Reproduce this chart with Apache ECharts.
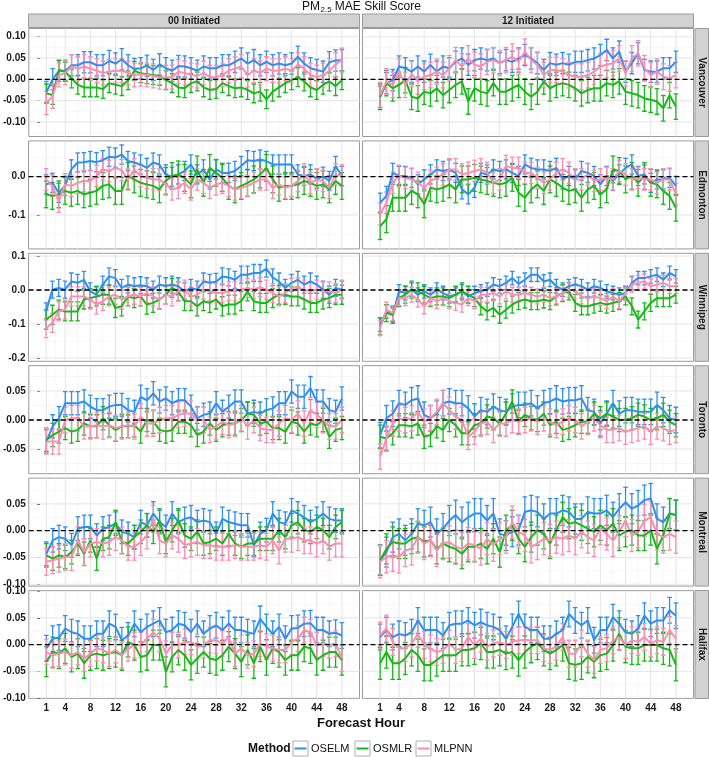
<!DOCTYPE html>
<html><head><meta charset="utf-8">
<script src="https://cdn.jsdelivr.net/npm/echarts@6/dist/echarts.min.js"></script>
<style>html,body{margin:0;padding:0;background:#fff}#c{width:709px;height:757px}</style>
</head><body><div id="c"></div>
<script>
// ---------------- DATA ----------------
const hours = [1,2,3,4,5,6,7,8,9,10,11,12,13,14,15,16,17,18,19,20,21,22,23,24,25,26,27,28,29,30,31,32,33,34,35,36,37,38,39,40,41,42,43,44,45,46,47,48];
const xTickLabels = [1,4,8,12,16,20,24,28,32,36,40,44,48];
const xMinorGrid = [2.5,6,10,14,18,22,26,30,34,38,42,46];
const cities = ['Vancouver','Edmonton','Winnipeg','Toronto','Montreal','Halifax'];
const initTimes = ['00 Initiated','12 Initiated'];
const methods = ['OSELM','OSMLR','MLPNN'];

const yTicksVancouver = [-0.10,-0.05,0.00,0.05,0.10];
const yTicksEdmonton  = [-0.1,0.0];
const yTicksWinnipeg  = [-0.2,-0.1,0.0,0.1];
const yTicksToronto   = [-0.05,0.00,0.05];
const yTicksMontreal  = [-0.10,-0.05,0.00,0.05];
const yTicksHalifax   = [-0.10,-0.05,0.00,0.05,0.10];
const yMinorVancouver = [-0.125,-0.075,-0.025,0.025,0.075];
const yMinorEdmonton  = [-0.15,-0.05,0.05];
const yMinorWinnipeg  = [-0.15,-0.05,0.05];
const yMinorToronto   = [-0.075,-0.025,0.025,0.075];
const yMinorMontreal  = [-0.075,-0.025,0.025,0.075];
const yMinorHalifax   = [-0.075,-0.025,0.025,0.075];

const vancouver00_oselm = [-0.03,0,0.02,0.02,0.033,0.033,0.04,0.04,0.033,0.033,0.043,0.037,0.047,0.033,0.024,0.026,0.032,0.022,0.035,0.026,0.02,0.031,0.03,0.026,0.02,0.03,0.026,0.026,0.033,0.033,0.041,0.049,0.037,0.045,0.033,0.041,0.033,0.037,0.033,0.037,0.053,0.037,0.026,0.022,0.018,0.04,0.044,0.045];
const vancouver00_osmlr = [-0.033,-0.037,0.022,0.018,0.002,-0.013,-0.019,-0.019,-0.019,-0.023,-0.009,-0.013,-0.016,-0.002,0.02,0.014,0.012,0.01,0.008,-0.002,-0.009,-0.019,-0.021,-0.009,-0.005,-0.019,-0.025,-0.023,-0.009,-0.016,-0.021,-0.019,-0.025,-0.033,-0.029,-0.047,-0.029,-0.019,-0.009,-0.002,0.005,-0.005,-0.019,-0.025,-0.013,-0.005,-0.016,-0.002];
const vancouver00_mlpnn = [-0.055,-0.04,0.01,0.015,0.03,0.025,0.03,0.025,0.02,0.015,0.018,0.02,0.02,0.015,0.01,0.012,0.01,0.008,0.005,0.005,0.005,0.018,0.015,0.01,0.008,0.015,0.005,0.005,0.01,0.02,0.025,0.03,0.01,0.02,0.015,0.025,0.02,0.02,0.025,0.02,0.035,0.025,0.01,0.005,0.01,0.02,0.035,0.045];
const vancouver12_oselm = [-0.041,-0.009,-0.002,0.03,0.026,0.018,0.03,0.018,0.034,0.018,0.03,0.026,0.041,0.049,0.034,0.045,0.049,0.045,0.049,0.038,0.045,0.041,0.049,0.057,0.049,0.038,0.022,0.038,0.034,0.038,0.034,0.041,0.041,0.045,0.049,0.057,0.069,0.049,0.065,0.018,0.038,0.061,0.022,0.018,0.018,0.026,0.026,0.041];
const vancouver12_osmlr = [-0.041,-0.009,-0.021,-0.013,-0.002,-0.041,-0.045,-0.029,-0.033,-0.021,-0.037,-0.025,-0.013,-0.005,-0.052,-0.021,-0.029,-0.033,-0.009,-0.029,-0.029,-0.021,-0.013,-0.029,-0.041,-0.029,-0.005,-0.021,-0.013,-0.009,-0.013,-0.021,-0.033,-0.025,-0.021,-0.021,-0.009,-0.013,-0.005,-0.029,-0.033,-0.037,-0.045,-0.048,-0.052,-0.068,-0.037,-0.064];
const vancouver12_mlpnn = [-0.037,-0.005,-0.013,0.018,-0.013,0.012,-0.005,0.006,0.01,0.018,0.01,0.026,0.045,0.03,0.049,0.034,0.03,0.041,0.045,0.038,0.045,0.053,0.041,0.065,0.045,0.034,0.01,0.022,0.022,0.018,0.01,0.006,0.006,0.01,0.018,0.03,0.034,0.038,0.049,0.014,0.049,0.061,0.026,0.01,0.018,0.006,0.002,0.01];

const edmonton00_oselm = [-0.02,-0.016,-0.042,-0.024,0.019,0.037,0.038,0.041,0.038,0.043,0.052,0.05,0.058,0.041,0.037,0.032,0.023,0.037,0.032,0.006,0,0.006,0.015,0.032,0.006,0.019,-0.007,0.019,0.01,0.01,0.015,0.028,0.043,0.041,0.045,0.041,0.032,0.032,0.032,0.032,0.006,0.002,0.006,-0.005,0,-0.011,0.028,0.002];
const edmonton00_osmlr = [-0.046,-0.05,-0.046,-0.037,-0.042,-0.037,-0.046,-0.042,-0.037,-0.024,-0.02,-0.037,-0.037,0.002,-0.007,-0.016,-0.02,-0.024,-0.033,-0.011,0.002,0.006,-0.003,-0.02,0.019,-0.016,0.023,0.01,-0.003,-0.024,-0.033,-0.024,-0.016,-0.007,0.006,0.023,-0.007,-0.029,-0.024,-0.024,-0.02,-0.011,-0.016,-0.024,-0.02,-0.033,-0.011,-0.024];
const edmonton00_mlpnn = [-0.007,-0.024,-0.065,-0.02,-0.024,-0.016,-0.011,-0.011,0.002,0.019,0.015,0.023,0.017,-0.007,0.019,0.002,-0.003,-0.007,-0.007,-0.02,-0.033,-0.029,-0.016,-0.033,-0.007,-0.016,-0.029,-0.02,-0.016,-0.024,-0.033,-0.029,-0.024,-0.016,-0.007,-0.007,-0.029,-0.02,-0.029,-0.024,-0.011,0.006,-0.016,-0.007,-0.011,-0.029,0.006,0.003];
const edmonton12_oselm = [-0.068,-0.05,0.01,0.002,0.002,-0.003,-0.02,-0.007,0.006,0.019,0.015,0.019,0.01,-0.033,-0.046,-0.029,0.01,0.006,0.019,0.015,0.019,0.01,0.002,0.032,0.023,0.019,0.019,0.015,0.023,-0.007,0.002,-0.007,0.015,0.01,0.002,-0.02,0.002,-0.011,0.006,0.023,0.032,0.002,0.006,-0.016,-0.007,-0.007,-0.003,-0.024];
const edmonton12_osmlr = [-0.129,-0.111,-0.055,-0.055,-0.055,-0.037,-0.046,-0.072,-0.029,-0.033,-0.029,-0.02,-0.033,-0.007,-0.007,-0.003,-0.007,-0.011,-0.016,-0.02,-0.016,-0.003,-0.042,-0.055,-0.033,-0.02,-0.037,-0.007,-0.016,-0.029,-0.037,-0.033,-0.055,-0.033,-0.024,-0.046,-0.033,0.019,0.015,-0.007,0.002,-0.016,0.002,-0.016,-0.02,-0.037,-0.05,-0.081];
const edmonton12_mlpnn = [-0.098,-0.068,-0.016,0.002,-0.003,-0.007,-0.016,-0.029,-0.011,-0.003,0.006,0.019,0.019,0.006,0.01,0.015,0.019,0.01,-0.016,-0.007,0.028,0.023,0.023,0.01,0.01,-0.003,-0.016,-0.007,0.01,0.019,0.01,-0.007,-0.007,0.006,-0.011,-0.007,-0.003,-0.007,0.015,0.006,-0.007,-0.003,-0.007,-0.007,-0.016,-0.007,-0.007,-0.046];

const winnipeg00_oselm = [-0.063,0.001,0.006,0.001,0.025,0.021,0.03,-0.004,-0.014,0.016,0.04,0.035,0.006,0.016,0.011,0.014,0.011,0.001,0.016,0.011,0.016,0.011,-0.004,0.006,0.001,0.025,0.021,0.024,0.04,0.037,0.03,0.045,0.045,0.05,0.05,0.063,0.037,0.025,0.006,0.021,0.03,0.016,0.025,0.016,0.001,-0.014,0.006,0.001];
const winnipeg00_osmlr = [-0.087,-0.073,-0.058,-0.063,-0.063,-0.063,-0.028,-0.024,-0.019,-0.014,-0.014,-0.053,-0.048,-0.019,-0.024,-0.019,-0.043,-0.038,-0.028,-0.014,0.006,-0.004,-0.033,-0.033,-0.048,-0.033,-0.038,-0.028,-0.048,-0.043,-0.043,-0.033,-0.004,-0.033,-0.038,-0.038,-0.024,-0.014,-0.014,-0.019,-0.019,-0.028,-0.038,-0.038,-0.028,-0.024,-0.014,-0.014];
const winnipeg00_mlpnn = [-0.112,-0.097,-0.063,-0.058,-0.019,-0.019,-0.019,-0.028,-0.043,-0.033,-0.019,-0.014,-0.028,-0.019,-0.014,-0.019,-0.009,-0.019,-0.028,-0.014,-0.019,-0.004,0.001,-0.019,-0.014,0.001,-0.004,-0.009,-0.009,-0.004,-0.004,0.001,0.006,0.001,0.008,0.001,-0.009,-0.019,-0.009,0.006,0.008,0.001,-0.004,0.001,-0.004,-0.004,-0.009,0.001];
const winnipeg12_oselm = [-0.102,-0.063,-0.073,-0.004,-0.009,0.001,-0.014,-0.004,-0.014,0.001,-0.009,-0.019,-0.014,-0.004,-0.019,-0.009,-0.004,0.001,0.016,0.011,0.021,0.035,0.018,0.03,0.045,0.045,0.025,0.03,0.011,0.001,0.011,0.016,0.011,0.001,0.011,0.006,-0.004,-0.009,-0.014,-0.009,0.021,0.035,0.035,0.04,0.045,0.03,0.05,0.04];
const winnipeg12_osmlr = [-0.107,-0.068,-0.073,-0.024,-0.014,0.001,-0.004,-0.014,-0.024,-0.019,-0.019,-0.024,-0.014,-0.004,-0.014,-0.024,-0.048,-0.063,-0.053,-0.073,-0.058,-0.043,-0.033,-0.028,-0.033,-0.033,-0.028,-0.033,-0.019,-0.009,-0.004,-0.038,-0.048,-0.048,-0.043,-0.038,-0.043,-0.038,-0.033,-0.019,-0.048,-0.087,-0.063,-0.038,-0.024,-0.024,-0.024,-0.014];
const winnipeg12_mlpnn = [-0.112,-0.058,-0.068,-0.024,-0.024,-0.014,-0.028,-0.048,-0.024,-0.033,-0.024,-0.033,-0.038,-0.043,-0.024,-0.033,-0.014,-0.014,-0.009,-0.019,-0.004,-0.014,-0.014,-0.009,-0.014,-0.019,-0.014,-0.024,-0.019,-0.009,0.001,-0.004,-0.019,-0.024,-0.019,-0.024,-0.033,-0.019,-0.033,-0.009,0.016,0.021,0.025,0.011,0.016,0.021,0.011,0.011];

const toronto00_oselm = [-0.037,-0.011,0.003,0.029,0.029,0.029,0.032,0.023,0.017,0.017,0.023,0.026,0.026,0.017,0.014,0.04,0.034,0.046,0.032,0.037,0.029,0.034,0.034,0.023,0.003,0.009,0.011,0.029,0.014,0.023,0.032,0.032,0.011,0.014,0.011,0.017,0.02,0.029,0.029,0.049,0.04,0.04,0.055,0.032,0.032,0.017,0.014,0.037];
const toronto00_osmlr = [-0.034,-0.026,-0.02,-0.014,-0.02,-0.017,-0.006,-0.011,-0.011,0.003,-0.009,-0.017,-0.011,-0.011,-0.009,-0.02,0,-0.003,-0.017,-0.02,-0.017,-0.003,-0.003,-0.009,-0.026,-0.02,-0.006,-0.017,-0.009,-0.006,-0.006,0,0.011,0.009,-0.006,-0.003,-0.014,-0.014,-0.02,-0.003,-0.006,-0.02,-0.006,-0.009,0,-0.029,-0.017,-0.014];
const toronto00_mlpnn = [-0.037,-0.037,-0.037,0,0.003,0.003,-0.011,-0.011,-0.009,-0.011,-0.009,-0.014,-0.011,-0.009,-0.011,0.006,-0.006,-0.006,0,0.003,0.003,0.009,0.011,0.011,0,0,-0.017,-0.011,-0.003,-0.009,-0.006,0.003,-0.011,0,-0.014,-0.017,-0.017,-0.006,0.003,0,0.011,-0.006,0.017,0.009,0,-0.011,-0.011,0];
const toronto12_oselm = [-0.026,0.003,0.011,0.029,0.026,0.034,0.037,0.009,0.003,0.011,0.029,0.032,0.029,0.029,0.02,0.006,0.017,0.014,0.023,0.017,0.014,0.023,0.026,0.026,0.029,0.02,0.029,0.032,0.037,0.032,0.034,0.034,0.037,0.017,0.014,-0.006,0.011,0.029,0.011,0.017,0.017,0.014,0.014,0.014,0.026,0.017,0.003,0];
const toronto12_osmlr = [-0.029,-0.032,-0.023,-0.009,-0.009,-0.011,-0.006,-0.029,-0.026,-0.011,-0.017,0,-0.009,-0.023,-0.023,-0.009,-0.006,0.006,0.003,-0.006,0.011,0.032,-0.003,0.009,0.003,0,0.011,-0.009,-0.003,-0.017,-0.014,-0.009,-0.003,-0.003,0.011,0.003,0.011,0.006,0,0,0.003,0.009,0.006,0,0.003,0.009,-0.003,-0.009];
const toronto12_mlpnn = [-0.063,-0.032,-0.006,0.003,0,0.003,0.014,-0.003,0.003,0.014,0.029,0.017,0.006,0,-0.029,-0.02,-0.006,-0.003,-0.017,-0.006,-0.006,0,-0.003,0,0.003,-0.003,0.003,-0.003,-0.009,-0.003,0.003,0,-0.011,-0.003,0.003,-0.009,-0.017,-0.017,-0.014,-0.02,-0.017,-0.014,-0.011,-0.02,-0.011,-0.014,-0.02,-0.017];

const montreal00_oselm = [-0.043,-0.018,-0.012,-0.015,-0.027,0.004,0.007,0.007,-0.009,0.004,0.007,0.013,-0.002,-0.006,-0.012,0.016,0.01,0.032,0.016,0.007,0.032,0.016,0.022,0.025,0.016,0.019,0.016,-0.006,0.022,0.016,0.013,0.01,0.01,-0.027,-0.006,0.001,0.032,0.016,0.013,0.038,0.032,0.025,0.016,0.022,0.032,0.022,0.019,0.019];
const montreal00_osmlr = [-0.046,-0.052,-0.046,-0.049,-0.04,-0.024,-0.043,-0.018,-0.052,-0.015,-0.012,0.016,-0.021,-0.024,-0.012,-0.002,0.01,-0.002,0.019,-0.021,0.001,0.019,-0.009,-0.015,-0.002,-0.024,-0.021,-0.015,-0.024,-0.006,-0.024,-0.03,-0.024,-0.024,-0.015,-0.015,-0.015,0.001,-0.012,0.01,0.016,0.001,-0.002,0.007,0.001,-0.012,0.007,0.016];
const montreal00_mlpnn = [-0.058,-0.055,-0.052,-0.049,-0.049,-0.018,-0.04,-0.024,-0.021,-0.024,-0.021,-0.012,-0.018,-0.03,-0.03,-0.021,-0.009,0.022,-0.018,-0.024,-0.009,-0.015,-0.027,-0.024,-0.021,-0.027,-0.027,-0.03,-0.03,-0.03,-0.027,-0.03,-0.03,-0.03,-0.027,-0.03,-0.018,-0.037,-0.015,-0.015,-0.012,-0.018,-0.018,-0.024,-0.018,-0.03,-0.024,-0.024];
const montreal12_oselm = [-0.055,-0.04,-0.012,-0.006,-0.018,-0.006,0.013,0.01,0.016,-0.006,0.004,0.019,0.029,0.016,0.025,0.032,0.032,0.019,0.032,-0.006,-0.009,-0.002,0.001,0.035,0.038,0.035,0.022,0.032,0.032,0.038,0.035,0.022,0.022,0.035,0.032,0.032,0.038,0.025,0.041,0.053,0.041,0.047,0.057,0.06,0.022,0.016,0.032,0.029];
const montreal12_osmlr = [-0.055,-0.034,-0.021,-0.024,-0.024,-0.015,-0.012,-0.021,-0.018,-0.034,-0.024,-0.03,-0.034,-0.043,-0.03,-0.03,-0.024,-0.034,-0.015,-0.04,0.001,0.01,-0.015,-0.03,-0.012,0.001,-0.006,-0.024,0.001,0.025,0.013,0.016,0.01,0.004,-0.002,0.01,0.001,0.013,-0.009,-0.002,0.001,-0.009,-0.009,0.001,-0.034,-0.009,0.032,0.029];
const montreal12_mlpnn = [-0.058,-0.049,-0.046,-0.049,-0.037,-0.034,-0.012,-0.024,-0.018,-0.037,-0.024,-0.021,-0.03,-0.034,-0.024,-0.027,-0.034,-0.015,-0.027,-0.015,-0.012,0.016,-0.002,-0.009,-0.03,-0.024,-0.015,-0.018,-0.012,-0.015,-0.009,-0.015,-0.002,-0.012,-0.018,0.004,-0.006,-0.018,-0.002,0.019,-0.009,-0.002,0.019,0.025,-0.006,-0.012,-0.006,-0.012];

const halifax00_oselm = [-0.007,0.011,0.013,0.03,0.023,0.02,0.011,0.011,0.02,0.02,0.039,0.033,0.008,0.017,0.039,0.023,0.033,0.039,0.045,0.023,0.027,0.039,0.036,0.023,0.039,0.02,0.03,0.036,0.027,0.039,0.027,0.027,0.023,0.02,0.048,0.033,0.02,0.033,0.011,0.03,0.031,0.039,0.04,0.027,0.027,0.02,0.022,0.017];
const halifax00_osmlr = [-0.032,-0.014,-0.017,-0.007,-0.023,-0.017,-0.035,-0.02,-0.017,-0.02,-0.017,-0.014,-0.02,0.005,-0.001,-0.023,-0.02,-0.001,-0.001,-0.051,-0.023,-0.01,-0.02,-0.038,-0.026,-0.014,-0.026,-0.029,-0.02,-0.004,-0.017,-0.032,-0.01,-0.035,-0.004,-0.029,-0.007,-0.014,-0.029,-0.02,-0.02,-0.004,-0.007,-0.029,-0.02,-0.014,-0.014,-0.029];
const halifax00_mlpnn = [-0.014,-0.02,-0.017,-0.014,-0.02,-0.014,-0.026,-0.017,-0.007,-0.01,-0.017,-0.01,-0.02,-0.007,-0.001,-0.001,0.011,0.023,0.011,-0.017,-0.001,-0.001,0.005,0.005,-0.004,-0.001,0.008,0.008,0.002,0.014,-0.017,-0.007,-0.02,-0.017,0.002,-0.004,-0.007,-0.01,-0.01,0.005,0.011,0.027,0.023,-0.001,0.002,-0.001,0.002,-0.026];
const halifax12_oselm = [0.014,0.027,0.014,0.02,0.017,0.023,0.045,0.027,0.027,0.027,0.017,0.036,0.039,0.039,0.045,0.036,0.042,0.036,0.033,0.027,0.011,0.033,0.057,0.033,0.027,0.027,0.011,0.011,0.02,0.027,0.057,0.045,0.036,0.045,0.008,0.027,0.027,0.051,0.039,0.023,0.02,0.03,0.054,0.039,0.045,0.045,0.064,0.054];
const halifax12_osmlr = [-0.035,-0.014,-0.035,-0.035,-0.026,-0.01,-0.02,-0.038,-0.038,-0.029,-0.02,-0.02,-0.02,-0.01,-0.01,-0.007,0.002,-0.014,-0.014,-0.01,-0.017,-0.014,-0.029,-0.014,-0.004,0.002,-0.01,-0.017,-0.01,-0.001,-0.035,-0.038,-0.035,-0.023,-0.032,-0.02,-0.017,-0.001,0.02,-0.004,-0.007,-0.007,-0.001,-0.001,-0.001,-0.007,-0.01,-0.038];
const halifax12_mlpnn = [0.017,0.03,0.005,-0.007,-0.007,0.002,0.02,-0.001,-0.007,-0.014,-0.01,0.002,-0.01,-0.007,0.014,-0.001,0.011,-0.004,0.002,0.005,-0.001,0.005,0.008,0.008,0.008,0.008,-0.007,-0.01,-0.004,0.014,-0.017,-0.017,0.002,-0.017,-0.029,-0.01,-0.007,0.008,0.014,-0.001,0.008,0.005,0.014,0.002,0.008,0.005,0.027,0.011];

// error-bar half widths per method [OSELM, OSMLR, MLPNN]
const errVancouver00 = [0.025,0.022,0.028], errVancouver12 = [0.025,0.03,0.03];
const errEdmonton00  = [0.025,0.035,0.028], errEdmonton12  = [0.025,0.035,0.028];
const errWinnipeg00  = [0.025,0.028,0.028], errWinnipeg12  = [0.02,0.025,0.022];
const errToronto00   = [0.02,0.02,0.022],   errToronto12   = [0.022,0.02,0.022];
const errMontreal00  = [0.022,0.022,0.025], errMontreal12  = [0.028,0.028,0.03];
const errHalifax00   = [0.024,0.028,0.024], errHalifax12   = [0.024,0.03,0.025];

// ---------------- ASSEMBLY ----------------
const panelValues = [
  [[vancouver00_oselm,vancouver00_osmlr,vancouver00_mlpnn],[vancouver12_oselm,vancouver12_osmlr,vancouver12_mlpnn]],
  [[edmonton00_oselm,edmonton00_osmlr,edmonton00_mlpnn],[edmonton12_oselm,edmonton12_osmlr,edmonton12_mlpnn]],
  [[winnipeg00_oselm,winnipeg00_osmlr,winnipeg00_mlpnn],[winnipeg12_oselm,winnipeg12_osmlr,winnipeg12_mlpnn]],
  [[toronto00_oselm,toronto00_osmlr,toronto00_mlpnn],[toronto12_oselm,toronto12_osmlr,toronto12_mlpnn]],
  [[montreal00_oselm,montreal00_osmlr,montreal00_mlpnn],[montreal12_oselm,montreal12_osmlr,montreal12_mlpnn]],
  [[halifax00_oselm,halifax00_osmlr,halifax00_mlpnn],[halifax12_oselm,halifax12_osmlr,halifax12_mlpnn]]
];
const panelErr = [
  [errVancouver00,errVancouver12],[errEdmonton00,errEdmonton12],[errWinnipeg00,errWinnipeg12],
  [errToronto00,errToronto12],[errMontreal00,errMontreal12],[errHalifax00,errHalifax12]
];
const rowTicks = [yTicksVancouver,yTicksEdmonton,yTicksWinnipeg,yTicksToronto,yTicksMontreal,yTicksHalifax];
const rowMinor = [yMinorVancouver,yMinorEdmonton,yMinorWinnipeg,yMinorToronto,yMinorMontreal,yMinorHalifax];
const rowDecimals = [2,1,1,2,2,2];
const rowRange = [[-0.1343,0.1193],[-0.1885,0.0935],[-0.210,0.108],[-0.0926,0.0936],[-0.1034,0.0981],[-0.1008,0.1010]];

const colors = ['#2f8ef0','#17b817','#fa8db2'];
const FONT = '"Liberation Sans", Arial, Helvetica, sans-serif';
const LEFTS = [28.5, 362.5], PW = 331, PH = 108;
const TOPS = [28.5, 140.9, 253.3, 365.7, 478.1, 590.5];
const XMIN = -1.8, XMAX = 50.8;

const grids = [], xAxes = [], yAxes = [], series = [];
for (let r = 0; r < 6; r++) {
  for (let c = 0; c < 2; c++) {
    const gi = r * 2 + c;
    const bottom = r === 5, left = c === 0;
    grids.push({left: LEFTS[c], top: TOPS[r], width: PW, height: PH, show: true,
      backgroundColor: '#ffffff', borderColor: '#9a9a9a', borderWidth: 1, containLabel: false});
    xAxes.push({type: 'value', gridIndex: gi, min: XMIN, max: XMAX,
      axisLine: {show: false}, splitLine: {show: false},
      axisTick: {show: bottom, customValues: xTickLabels, length: 3, lineStyle: {color: '#444'}},
      axisLabel: {show: bottom, customValues: xTickLabels, fontSize: 10, fontWeight: 'bold', color: '#1a1a1a', margin: 5, fontFamily: FONT}});
    const dec = rowDecimals[r];
    yAxes.push({type: 'value', gridIndex: gi, min: rowRange[r][0], max: rowRange[r][1],
      axisLine: {show: false}, splitLine: {show: false},
      axisTick: {show: left, customValues: rowTicks[r], length: 3, lineStyle: {color: '#444'}},
      axisLabel: {show: left, customValues: rowTicks[r], fontSize: 10, fontWeight: 'bold', color: '#1a1a1a', margin: 3, fontFamily: FONT,
        formatter: v => Number(v).toFixed(dec)}});

    // background grid lines
    const yLineData = rowTicks[r].map(v => [0, v, 1]).concat(rowMinor[r].map(v => [0, v, 0]));
    series.push({type: 'custom', xAxisIndex: gi, yAxisIndex: gi, z: 1, silent: true, animation: false, clip: true,
      data: yLineData,
      renderItem: (params, api) => {
        const cs = params.coordSys; const y = api.coord([0, api.value(1)])[1]; const major = api.value(2) === 1;
        return {type: 'line', shape: {x1: cs.x, y1: y, x2: cs.x + cs.width, y2: y},
          style: {stroke: major ? '#e2e2e2' : '#f1f1f1', lineWidth: major ? 0.9 : 0.6}};
      }});
    const xLineData = xTickLabels.map(v => [v, 0, 1]).concat(xMinorGrid.map(v => [v, 0, 0]));
    series.push({type: 'custom', xAxisIndex: gi, yAxisIndex: gi, z: 1, silent: true, animation: false, clip: true,
      data: xLineData,
      renderItem: (params, api) => {
        const cs = params.coordSys; const x = api.coord([api.value(0), 0])[0]; const major = api.value(2) === 1;
        return {type: 'line', shape: {x1: x, y1: cs.y, x2: x, y2: cs.y + cs.height},
          style: {stroke: major ? '#e2e2e2' : '#f1f1f1', lineWidth: major ? 0.9 : 0.6}};
      }});

    // error bars and lines
    for (let m = 0; m < 3; m++) {
      const vals = panelValues[r][c][m];
      const e = panelErr[r][c][m];
      const col = colors[m];
      series.push({type: 'custom', name: methods[m], xAxisIndex: gi, yAxisIndex: gi, z: 2 + m * 0.1, silent: true, animation: false, clip: true,
        encode: {x: 0, y: [1, 2]},
        data: hours.map((h, i) => [h, vals[i] - e, vals[i] + e]),
        renderItem: (params, api) => {
          const x = api.value(0);
          const p1 = api.coord([x, api.value(1)]), p2 = api.coord([x, api.value(2)]);
          const w = 2.3, st = {stroke: col, lineWidth: 1.3};
          return {type: 'group', children: [
            {type: 'line', shape: {x1: p1[0], y1: p1[1], x2: p2[0], y2: p2[1]}, style: st},
            {type: 'line', shape: {x1: p1[0] - w, y1: p1[1], x2: p1[0] + w, y2: p1[1]}, style: st},
            {type: 'line', shape: {x1: p2[0] - w, y1: p2[1], x2: p2[0] + w, y2: p2[1]}, style: st}
          ]};
        }});
    }
    for (let m = 0; m < 3; m++) {
      const vals = panelValues[r][c][m];
      series.push({type: 'line', name: methods[m], xAxisIndex: gi, yAxisIndex: gi, z: 3 + m * 0.1,
        data: hours.map((h, i) => [h, vals[i]]), showSymbol: false, symbol: 'none', animation: false, silent: true,
        lineStyle: {color: colors[m], width: 2}, itemStyle: {color: colors[m]}});
    }
    // dashed zero line
    series.push({type: 'custom', xAxisIndex: gi, yAxisIndex: gi, z: 5, silent: true, animation: false, clip: true,
      data: [[0, 0]],
      renderItem: (params, api) => {
        const cs = params.coordSys; const y = api.coord([0, api.value(1)])[1];
        return {type: 'line', shape: {x1: cs.x, y1: y, x2: cs.x + cs.width, y2: y},
          style: {stroke: '#000', lineWidth: 1.3, lineDash: [5, 3]}};
      }});
  }
}

// strips, title, axis title, legend
const graphics = [];
for (let c = 0; c < 2; c++) {
  graphics.push({type: 'rect', shape: {x: LEFTS[c], y: 14, width: PW, height: 13.5}, style: {fill: '#d2d2d2', stroke: '#9a9a9a', lineWidth: 1}, z: 10});
  graphics.push({type: 'text', x: LEFTS[c] + PW / 2, y: 21, style: {text: initTimes[c], font: 'bold 10px ' + FONT, fill: '#1a1a1a', textAlign: 'center', textVerticalAlign: 'middle'}, z: 11});
}
for (let r = 0; r < 6; r++) {
  graphics.push({type: 'rect', shape: {x: 695, y: TOPS[r], width: 13.5, height: PH}, style: {fill: '#d2d2d2', stroke: '#9a9a9a', lineWidth: 1}, z: 10});
  graphics.push({type: 'text', x: 702, y: TOPS[r] + PH / 2, rotation: -Math.PI / 2, style: {text: cities[r], font: 'bold 10px ' + FONT, fill: '#1a1a1a', textAlign: 'center', textVerticalAlign: 'middle'}, z: 11});
}
graphics.push({type: 'text', x: 302, y: 6.5, style: {text: 'PM', font: '12px ' + FONT, fill: '#111', textAlign: 'left', textVerticalAlign: 'middle'}, z: 11});
graphics.push({type: 'text', x: 320.5, y: 10, style: {text: '2.5', font: '8px ' + FONT, fill: '#111', textAlign: 'left', textVerticalAlign: 'middle'}, z: 11});
graphics.push({type: 'text', x: 331.5, y: 6.5, style: {text: ' MAE Skill Score', font: '12px ' + FONT, fill: '#111', textAlign: 'left', textVerticalAlign: 'middle'}, z: 11});
graphics.push({type: 'text', x: 361, y: 723, style: {text: 'Forecast Hour', font: 'bold 13px ' + FONT, fill: '#111', textAlign: 'center', textVerticalAlign: 'middle'}, z: 11});
graphics.push({type: 'text', x: 248, y: 748.5, style: {text: 'Method', font: 'bold 12px ' + FONT, fill: '#111', textAlign: 'left', textVerticalAlign: 'middle'}, z: 11});
const keyX = [293, 355, 416];
for (let m = 0; m < 3; m++) {
  graphics.push({type: 'rect', shape: {x: keyX[m], y: 741, width: 15, height: 15}, style: {fill: '#ffffff', stroke: '#b0b0b0', lineWidth: 1}, z: 10});
  graphics.push({type: 'line', shape: {x1: keyX[m] + 1.5, y1: 748.5, x2: keyX[m] + 13.5, y2: 748.5}, style: {stroke: colors[m], lineWidth: 2}, z: 11});
  graphics.push({type: 'text', x: keyX[m] + 18, y: 748.5, style: {text: methods[m], font: '11px ' + FONT, fill: '#111', textAlign: 'left', textVerticalAlign: 'middle'}, z: 11});
}

const chart = echarts.init(document.getElementById('c'));
chart.setOption({
  backgroundColor: '#ffffff',
  animation: false,
  grid: grids, xAxis: xAxes, yAxis: yAxes, series: series,
  graphic: {elements: graphics}
});
</script>
</body></html>
